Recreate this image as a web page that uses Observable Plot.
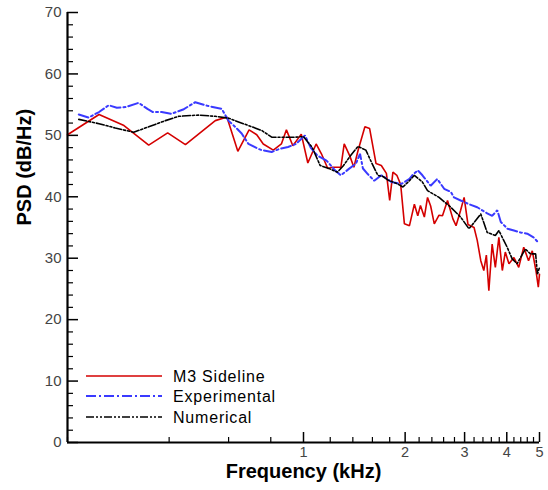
<!DOCTYPE html>
<html><head><meta charset="utf-8">
<script src="https://cdn.jsdelivr.net/npm/d3@7"></script>
<script src="https://cdn.jsdelivr.net/npm/@observablehq/plot@0.6"></script>
<style>
body{margin:0;background:#fff;}
#wrap{position:relative;width:548px;height:490px;font-family:"Liberation Sans",Arial,sans-serif;}
#legend{position:absolute;left:0;top:0;pointer-events:none;}
</style></head><body><div id="wrap"></div>
<script>
// ---- data (frequency in kHz, PSD in dB/Hz) ----
const m3Freq = [0.2,0.248,0.294,0.348,0.396,0.447,0.548,0.593,0.639,0.69,0.727,0.76,0.814,0.86,0.89,0.93,0.985,1.03,1.09,1.13,1.18,1.22,1.29,1.32,1.37,1.41,1.45,1.52,1.57,1.64,1.70,1.76,1.80,1.84,1.89,1.94,1.99,2.06,2.13,2.18,2.22,2.28,2.33,2.38,2.44,2.52,2.58,2.67,2.77,2.83,2.92,2.99,3.07,3.2,3.27,3.35,3.42,3.48,3.54,3.62,3.70,3.79,3.88,3.96,4.06,4.2,4.34,4.49,4.64,4.76,4.88,4.96,5.0];
const m3Psd  = [50.1,53.4,51.6,48.4,50.4,48.5,52.4,53.0,47.4,50.9,50.1,48.6,47.6,48.6,50.9,48.3,50.2,45.5,48.6,47.0,44.6,44.8,44.8,48.6,46.7,44.8,47.5,51.4,51.1,45.4,45.1,43.8,39.4,44.0,43.5,42.0,35.6,35.3,38.8,36.9,38.6,36.7,39.9,38.5,35.6,37.0,36.9,39.4,36.4,35.3,37.8,39.9,35.5,35.0,32.9,29.6,28.0,30.5,24.7,32.3,28.5,33.4,28.0,31.0,29.1,30.1,28.5,31.8,29.6,31.2,28.0,25.3,27.4];

const expFreq = [0.216,0.231,0.248,0.265,0.28,0.297,0.325,0.345,0.358,0.38,0.406,0.44,0.478,0.52,0.573,0.599,0.627,0.656,0.687,0.735,0.752,0.805,0.85,0.9,0.95,1.01,1.05,1.10,1.17,1.24,1.29,1.36,1.43,1.47,1.5,1.55,1.62,1.70,1.76,1.82,1.95,2.06,2.1,2.18,2.25,2.38,2.49,2.61,2.73,2.79,2.92,3.09,3.27,3.5,3.62,3.75,3.84,4.02,4.2,4.39,4.6,4.8,4.97];
const expPsd  = [53.4,52.9,53.8,54.9,54.5,54.6,55.3,54.3,53.8,53.8,53.5,54.2,55.4,54.8,54.3,52.4,51.4,50.3,48.6,47.8,47.6,47.3,47.8,48.1,48.6,50.0,48.0,46.7,45.9,44.3,43.5,44.5,45.4,47.0,44.6,43.7,42.6,43.5,43.0,42.4,42.1,42.9,43.5,44.3,43.5,41.8,42.9,41.3,40.8,39.9,39.4,38.8,38.3,37.3,36.9,37.8,35.9,34.8,34.5,34.2,34.0,33.4,32.5];

const numFreq = [0.216,0.248,0.277,0.314,0.348,0.39,0.427,0.488,0.548,0.6,0.627,0.687,0.752,0.805,0.87,0.94,1.0,1.04,1.06,1.12,1.19,1.26,1.31,1.37,1.45,1.53,1.59,1.66,1.72,1.78,1.9,1.97,2.05,2.13,2.25,2.33,2.52,2.73,2.92,3.09,3.2,3.35,3.5,3.7,3.79,4.01,4.15,4.29,4.54,4.7,4.87,4.93,5.0];
const numPsd  = [52.6,51.9,51.2,50.5,51.4,52.4,53.1,53.3,53.1,52.8,52.4,51.6,50.8,49.7,49.7,49.7,49.8,48.6,48.1,45.1,44.6,44.0,45.0,46.5,48.2,47.6,45.6,43.5,43.3,42.7,42.1,41.6,42.5,43.5,42.4,41.0,39.9,38.3,36.7,34.8,35.8,37.2,34.2,33.7,34.5,31.8,29.9,29.1,31.5,30.7,30.7,27.4,28.5];

const seriesNames = ["M3 Sideline","Experimental","Numerical"];
const seriesColors = ["#d40000","#3a3aff","#000000"];
const seriesDash = [null,"10,3,2,3","8,2,2,2,2,2"];
const seriesWidth = [1.6,2,1.6];

const xTickLabels = [1,2,3,4,5];
const xMinorTicks = [0.2,0.4,0.6,0.8,1.2,1.4,1.6,1.8,2.2,2.4,2.6,2.8,3.2,3.4,3.6,3.8,4.2,4.4,4.6,4.8];
const yTickLabels = [0,10,20,30,40,50,60,70];
const yMinorTicks = d3.range(0,71,2).filter(v => v % 10 !== 0);

// ---- build ----
const toRows = (f, p) => f.map((x, i) => ({f: x, psd: p[i]}));
const allSeries = [toRows(m3Freq, m3Psd), toRows(expFreq, expPsd), toRows(numFreq, numPsd)];

const W = 548, H = 490, mL = 67, mR = 9, mT = 12, mB = 48;
const frameH = H - mT - mB, frameW = W - mL - mR;
const font = "'Liberation Sans', Arial, sans-serif";

const chart = Plot.plot({
  width: W, height: H,
  marginLeft: mL, marginRight: mR, marginTop: mT, marginBottom: mB,
  x: {type: "log", domain: [0.2, 5], axis: null},
  y: {domain: [0, 70], axis: null},
  style: {fontFamily: font, background: "white", overflow: "visible"},
  marks: [
    Plot.text(xTickLabels, {x: d => d, text: d => String(d), frameAnchor: "bottom", dy: 14, fontSize: 14.5, fill: "#444"}),
    Plot.text(yTickLabels, {y: d => d, text: d => String(d), frameAnchor: "left", dx: -6, textAnchor: "end", fontSize: 15, fill: "#444"}),
    Plot.tickX(xTickLabels, {x: d => d, insetTop: frameH - 10, stroke: "black", strokeWidth: 1.5}),
    Plot.tickX(xMinorTicks, {x: d => d, insetTop: frameH - 5, stroke: "black", strokeWidth: 1.2}),
    Plot.tickY(yTickLabels, {y: d => d, insetRight: frameW - 11, stroke: "black", strokeWidth: 1.5}),
    Plot.tickY(yMinorTicks, {y: d => d, insetRight: frameW - 6, stroke: "black", strokeWidth: 1.2}),
    ...allSeries.map((rows, i) => Plot.line(rows, {
      x: "f", y: "psd", stroke: seriesColors[i], strokeWidth: seriesWidth[i],
      strokeDasharray: seriesDash[i], strokeLinejoin: "miter"
    })),
    Plot.ruleY([0], {stroke: "black", strokeWidth: 2.2}),
    Plot.ruleX([0.2], {stroke: "black", strokeWidth: 2.2}),
    Plot.text(["Frequency (kHz)"], {frameAnchor: "bottom", dy: 35, fontSize: 20, fontWeight: "bold", fill: "black"}),
    Plot.text(["PSD (dB/Hz)"], {frameAnchor: "left", dx: -43, dy: -2, rotate: -90, fontSize: 20, fontWeight: "bold", fill: "black"})
  ]
});

const wrap = document.getElementById("wrap");
wrap.appendChild(chart);

// legend overlay
const leg = d3.select(wrap).append("svg").attr("id", "legend").attr("width", W).attr("height", H);
const legY = [376, 396, 417];
seriesNames.forEach((name, i) => {
  leg.append("line").attr("x1", 86).attr("x2", 162).attr("y1", legY[i]).attr("y2", legY[i])
    .attr("stroke", seriesColors[i]).attr("stroke-width", seriesWidth[i])
    .attr("stroke-dasharray", seriesDash[i]);
  leg.append("text").attr("x", 173).attr("y", legY[i]).attr("dy", "0.36em")
    .attr("font-size", 16).attr("letter-spacing", "0.8px")
    .attr("font-family", font).attr("fill", "black").text(name);
});
</script>
</body></html>
